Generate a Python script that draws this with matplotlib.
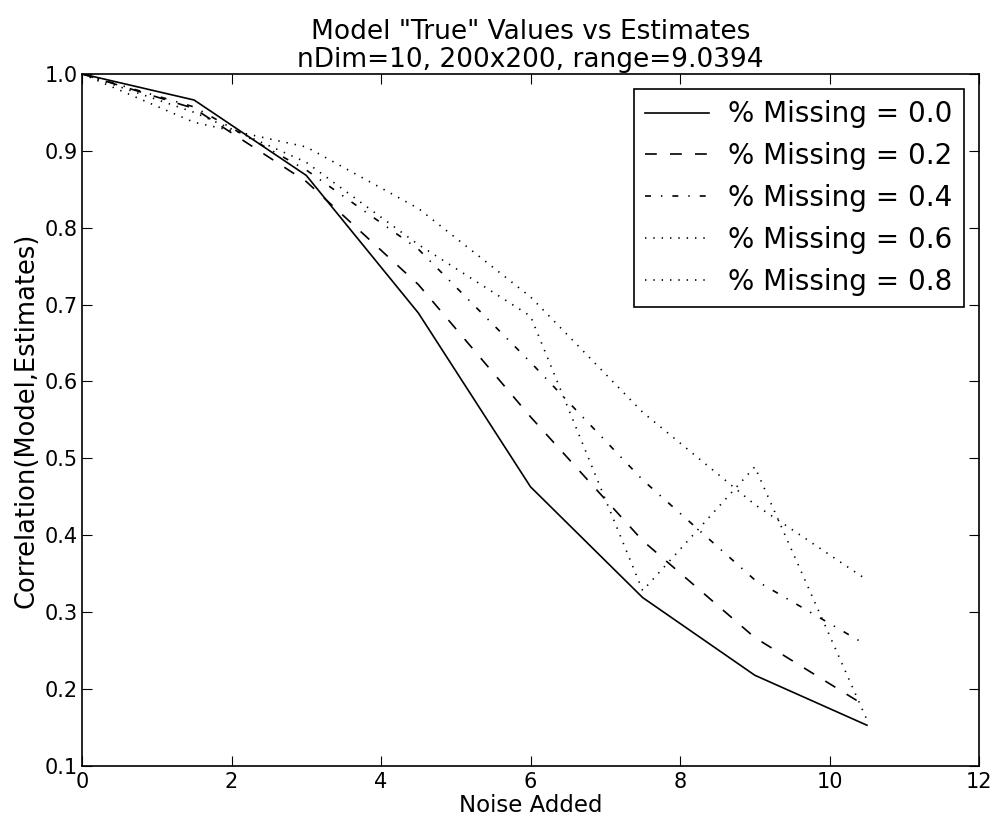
import numpy as np
import matplotlib
matplotlib.use("Agg")
import matplotlib.pyplot as plt

# noise levels added to the model
noise = [0, 1.5, 3, 4.5, 6, 7.5, 9, 10.5]

# correlation between model and estimates, one list per % missing
corr_00 = [1.0, 0.966, 0.868, 0.689, 0.463, 0.319, 0.218, 0.153]
corr_02 = [1.0, 0.955, 0.860, 0.726, 0.554, 0.393, 0.267, 0.177]
corr_04 = [1.0, 0.957, 0.875, 0.772, 0.625, 0.472, 0.342, 0.257]
corr_06 = [1.0, 0.937, 0.905, 0.825, 0.710, 0.560, 0.440, 0.342]
corr_08 = [1.0, 0.950, 0.885, 0.778, 0.685, 0.328, 0.489, 0.160]

missing = [0.0, 0.2, 0.4, 0.6, 0.8]
# old style dash patterns (points)
dash_list = [(None, None), (8.5, 9.5), (4.3, 7.2, 1, 7.2), (1, 5), (1, 5)]

plt.rcParams["xtick.direction"] = "in"
plt.rcParams["ytick.direction"] = "in"
plt.rcParams["xtick.top"] = True
plt.rcParams["ytick.right"] = True
plt.rcParams["xtick.major.size"] = 7
plt.rcParams["ytick.major.size"] = 7
plt.rcParams["lines.scale_dashes"] = False

fig = plt.figure(figsize=(9.95, 8.21), dpi=100, facecolor="white")
ax = fig.add_axes([0.0824, 0.067, 0.9016, 0.843])

all_corr = [corr_00, corr_02, corr_04, corr_06, corr_08]
for corr, m, d in zip(all_corr, missing, dash_list):
    line, = ax.plot(noise, corr, color="black", linewidth=1.2,
                    label="% Missing = " + str(m))
    if d[0] is not None:
        line.set_dashes(d)

ax.set_xlim(0, 12)
ax.set_ylim(0.1, 1.0)
ax.set_xticks(np.arange(0, 13, 2))
ax.set_yticks(np.arange(0.1, 1.01, 0.1))
ax.tick_params(labelsize=15)
ax.tick_params(axis="y", pad=3)
ax.tick_params(axis="x", pad=4)

# title, x and y labels, legend
ax.set_title('Model "True" Values vs Estimates\nnDim=10, 200x200, range=9.0394',
             fontsize=19, pad=5, linespacing=1.1)
ax.set_xlabel("Noise Added", fontsize=16.5, labelpad=2)
ax.set_ylabel("Correlation(Model,Estimates)", fontsize=18.5, labelpad=4)

leg = ax.legend(loc="upper right", fontsize=20, fancybox=False, framealpha=1,
                handlelength=2.3, borderpad=0.4, labelspacing=0.5,
                handletextpad=0.7, borderaxespad=0.55)
leg.get_frame().set_edgecolor("black")
leg.get_frame().set_linewidth(1.2)

for sp in ax.spines.values():
    sp.set_linewidth(1.2)

fig.savefig("out.png", dpi=100, facecolor="white")
